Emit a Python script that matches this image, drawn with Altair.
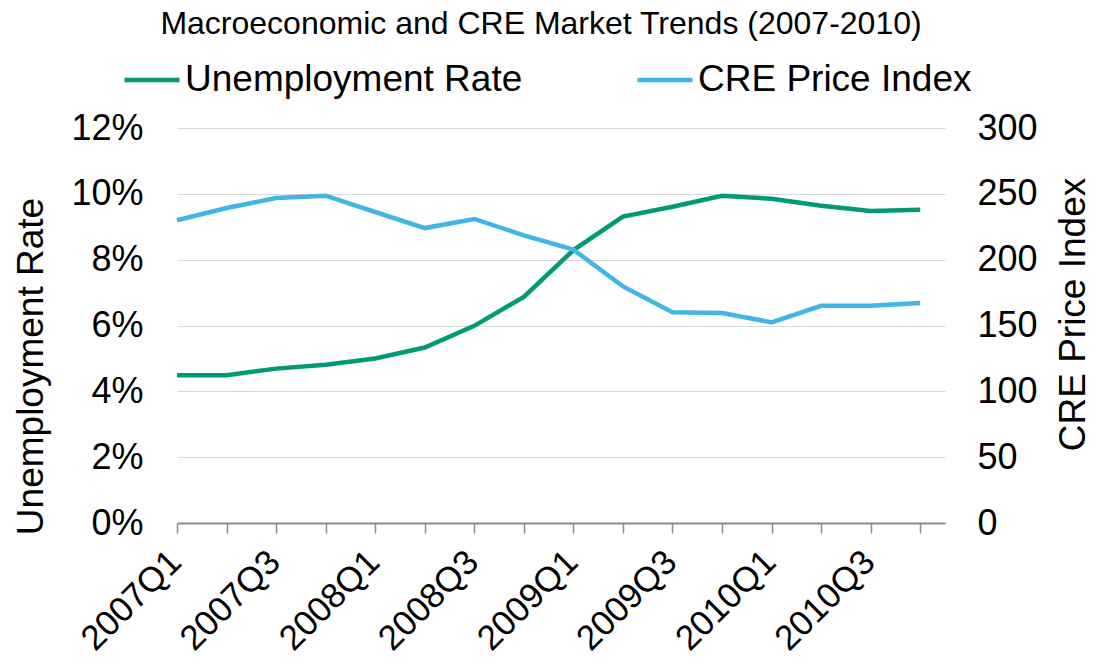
import altair as alt
import pandas as pd

quarters = ["2007Q1", "2007Q2", "2007Q3", "2007Q4",
            "2008Q1", "2008Q2", "2008Q3", "2008Q4",
            "2009Q1", "2009Q2", "2009Q3", "2009Q4",
            "2010Q1", "2010Q2", "2010Q3", "2010Q4"]
unemployment_rate = [4.49, 4.49, 4.69, 4.81, 5.0, 5.33, 5.99, 6.87,
                     8.29, 9.31, 9.61, 9.94, 9.85, 9.64, 9.48, 9.52]
cre_price_index = [229.9, 239.2, 246.8, 248.6, 236.2, 224.0, 230.9, 218.5,
                   207.6, 179.7, 160.0, 159.5, 152.4, 165.0, 165.0, 167.0]
left_ticks = [0, 2, 4, 6, 8, 10, 12]
right_ticks = [0, 50, 100, 150, 200, 250, 300]
series_names = ["Unemployment Rate", "CRE Price Index"]
series_colors = ["#009B72", "#41B6E6"]

df = pd.DataFrame({
    "idx": list(range(len(quarters))),
    "quarter": quarters,
    "unemp": unemployment_rate,
    "cre": cre_price_index,
})

FONT = "Liberation Sans"
labels_js = "[" + ",".join("'" + q + "'" for q in quarters) + "]"
x_label_expr = f"datum.value % 2 == 0 ? {labels_js}[datum.value] : ''"

x_enc = alt.X(
    "idx:Q",
    scale=alt.Scale(domain=[0, len(quarters) - 0.5], nice=False, zero=False),
    axis=alt.Axis(
        values=list(range(len(quarters))),
        labelExpr=x_label_expr,
        labelAngle=-45,
        labelAlign="right",
        labelBaseline="middle",
        labelFontSize=35,
        labelFont=FONT,
        labelColor="#000000",
        labelPadding=23,
        labelOffset=-2,
        labelOverlap=False,
        tickSize=10,
        tickColor="#8c8c8c",
        tickWidth=1.5,
        domainColor="#8c8c8c",
        domainWidth=2,
        grid=False,
        title=None,
    ),
)

color_scale = alt.Scale(domain=series_names, range=series_colors)

unemp_line = alt.Chart(df).transform_calculate(
    series="'" + series_names[0] + "'"
).mark_line(strokeWidth=4.5).encode(
    x=x_enc,
    y=alt.Y(
        "unemp:Q",
        scale=alt.Scale(domain=[0, 12], nice=False),
        axis=alt.Axis(
            orient="left",
            values=left_ticks,
            labelExpr="datum.value + '%'",
            labelFontSize=36,
            labelFont=FONT,
            labelColor="#000000",
            labelPadding=34,
            ticks=False,
            domain=False,
            grid=True,
            gridColor="#d9d9d9",
            gridWidth=1.2,
            title="Unemployment Rate",
            titleFontSize=37,
            titleFont=FONT,
            titleFontWeight="normal",
            titleColor="#000000",
            titleAngle=270,
            titleAlign="center",
            titleBaseline="middle",
            titleX=-146,
            titleY=238,
        ),
    ),
    color=alt.Color(
        "series:N",
        scale=color_scale,
        legend=alt.Legend(
            title=None,
            orient="none",
            direction="horizontal",
            legendX=-55,
            legendY=-78,
            labelFontSize=37,
            labelFont=FONT,
            labelColor="#000000",
            labelLimit=600,
            symbolType="stroke",
            symbolSize=3025,
            symbolStrokeWidth=4.5,
            labelOffset=3,
            columnPadding=105,
        ),
    ),
)

cre_line = alt.Chart(df).transform_calculate(
    series="'" + series_names[1] + "'"
).mark_line(strokeWidth=4.5).encode(
    x=x_enc,
    y=alt.Y(
        "cre:Q",
        scale=alt.Scale(domain=[0, 300], nice=False),
        axis=alt.Axis(
            orient="right",
            values=right_ticks,
            labelFontSize=36,
            labelFont=FONT,
            labelColor="#000000",
            labelPadding=32,
            ticks=False,
            domain=False,
            grid=False,
            title="CRE Price Index",
            titleFontSize=37,
            titleFont=FONT,
            titleFontWeight="normal",
            titleColor="#000000",
            titleAngle=270,
            titleAlign="center",
            titleBaseline="middle",
            titleX=128,
            titleY=186,
        ),
    ),
    color=alt.Color("series:N", scale=color_scale),
)

chart = (
    alt.layer(unemp_line, cre_line)
    .resolve_scale(y="independent")
    .properties(
        width=768,
        height=395,
        background="white",
        title=alt.TitleParams(
            text="Macroeconomic and CRE Market Trends (2007-2010)",
            fontSize=32,
            font=FONT,
            fontWeight="normal",
            color="#000000",
            anchor="middle",
            dx=-20,
            offset=9,
        ),
        autosize=alt.AutoSizeParams(type="none"),
        padding={"left": 169, "top": 120, "right": 144, "bottom": 136},
    )
    .configure_view(stroke=None)
)

chart.save("out.html", embed_options={"renderer": "svg", "actions": False})
